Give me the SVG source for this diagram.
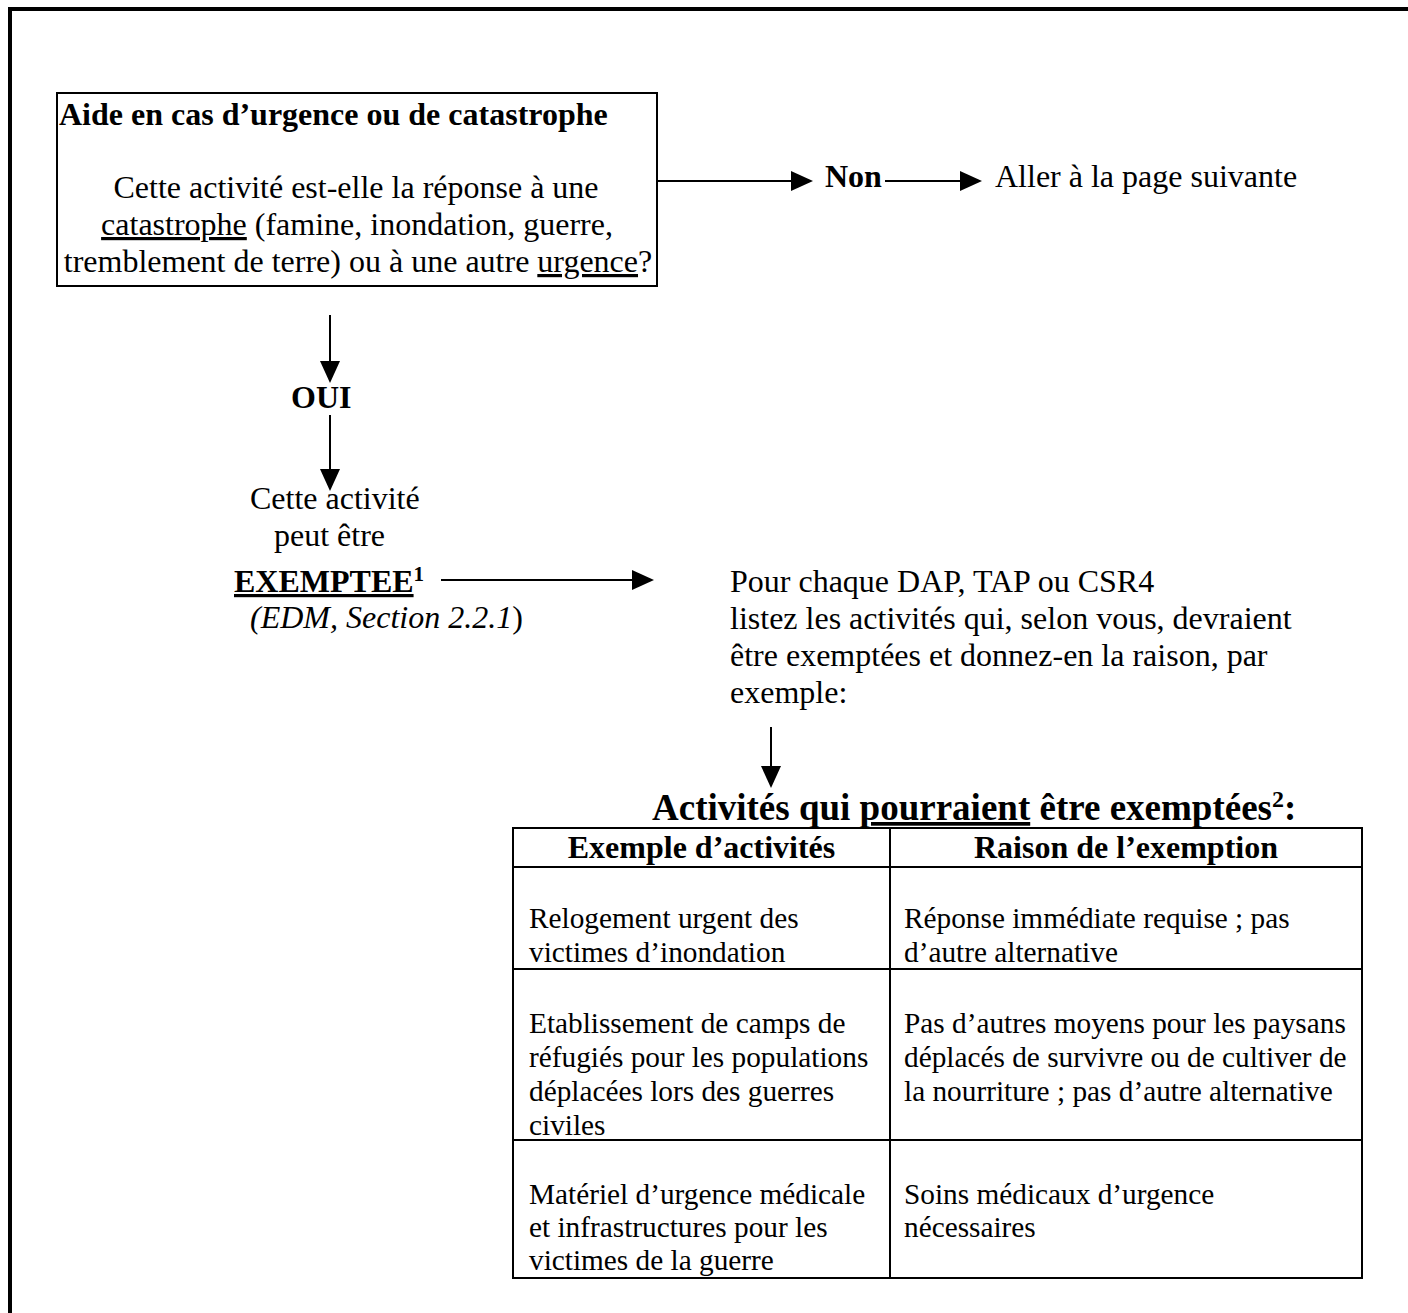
<svg xmlns="http://www.w3.org/2000/svg" width="1408" height="1313" viewBox="0 0 1408 1313">
<style>
text{font-family:"Liberation Serif","Times New Roman",serif;font-size:32px;fill:#000}
.b{font-weight:bold}
.i{font-style:italic}
.u{text-decoration:underline}
.c{text-anchor:middle}
.t{font-size:29.3px}
.h{font-size:37px}
.sup{font-size:21px}
.sup2{font-size:24px}
.ln{stroke:#000;stroke-width:2;fill:none}
.cell{stroke:#000;stroke-width:2;fill:none}
</style>
<defs>
<marker id="ah" markerUnits="userSpaceOnUse" markerWidth="22" markerHeight="20" viewBox="0 0 22 20" refX="0" refY="10" orient="auto">
<path d="M0,0 L22,10 L0,20 z" fill="#000"/>
</marker>
</defs>
<rect width="1408" height="1313" fill="#fff"/>
<path d="M10,1313 V9 H1408" stroke="#000" stroke-width="4" fill="none"/>

<g id="question">
<rect x="57" y="93" width="600" height="193" fill="#fff" stroke="#000" stroke-width="2"/>
<text class="b" x="59" y="125">Aide en cas d’urgence ou de catastrophe</text>
<text class="c" x="356" y="198">Cette activité est-elle la réponse à une</text>
<text class="c" x="357" y="235"><tspan class="u">catastrophe</tspan> (famine, inondation, guerre,</text>
<text class="c" x="358" y="272">tremblement de terre) ou à une autre <tspan class="u">urgence</tspan>?</text>
</g>

<g id="non">
<text class="b" x="825" y="187">Non</text>
</g>
<g id="next">
<text x="995" y="187">Aller à la page suivante</text>
</g>
<g id="oui">
<text class="b" x="291" y="408">OUI</text>
</g>
<g id="exempt">
<text x="250" y="509">Cette activité</text>
<text x="274" y="546">peut être</text>
<text class="b" x="234" y="592"><tspan class="u">EXEMPTEE</tspan><tspan class="sup" dy="-11">1</tspan></text>
<text x="250" y="628"><tspan class="i">(EDM, Section 2.2.1</tspan>)</text>
</g>
<g id="instructions">
<text x="730" y="592">Pour chaque DAP, TAP ou CSR4</text>
<text x="730" y="629">listez les activités qui, selon vous, devraient</text>
<text x="730" y="666">être exemptées et donnez-en la raison, par</text>
<text x="730" y="703">exemple:</text>
</g>

<g id="table">
<text class="b h" x="652" y="820">Activités qui <tspan class="u">pourraient</tspan> être exemptées<tspan class="sup2" dy="-13">2</tspan><tspan dy="13">:</tspan></text>
<rect class="cell" x="513" y="828" width="849" height="450"/>
<line class="cell" x1="890" y1="828" x2="890" y2="1278"/>
<line class="cell" x1="513" y1="867" x2="1362" y2="867"/>
<line class="cell" x1="513" y1="969" x2="1362" y2="969"/>
<line class="cell" x1="513" y1="1140" x2="1362" y2="1140"/>
<text class="b c" x="701.5" y="858">Exemple d’activités</text>
<text class="b c" x="1126" y="858">Raison de l’exemption</text>
<text class="t" x="529" y="928">Relogement urgent des</text>
<text class="t" x="529" y="962">victimes d’inondation</text>
<text class="t" x="904" y="928">Réponse immédiate requise ; pas</text>
<text class="t" x="904" y="962">d’autre alternative</text>
<text class="t" x="529" y="1033">Etablissement de camps de</text>
<text class="t" x="529" y="1067">réfugiés pour les populations</text>
<text class="t" x="529" y="1101">déplacées lors des guerres</text>
<text class="t" x="529" y="1135">civiles</text>
<text class="t" x="904" y="1033">Pas d’autres moyens pour les paysans</text>
<text class="t" x="904" y="1067">déplacés de survivre ou de cultiver de</text>
<text class="t" x="904" y="1101">la nourriture ; pas d’autre alternative</text>
<text class="t" x="529" y="1204">Matériel d’urgence médicale</text>
<text class="t" x="529" y="1237">et infrastructures pour les</text>
<text class="t" x="529" y="1270">victimes de la guerre</text>
<text class="t" x="904" y="1204">Soins médicaux d’urgence</text>
<text class="t" x="904" y="1237">nécessaires</text>
</g>

<g id="connectors">
<line class="ln" x1="657" y1="181" x2="791" y2="181" marker-end="url(#ah)"/>
<line class="ln" x1="885" y1="181" x2="960" y2="181" marker-end="url(#ah)"/>
<line class="ln" x1="330" y1="315" x2="330" y2="361" marker-end="url(#ah)"/>
<line class="ln" x1="330" y1="415" x2="330" y2="469" marker-end="url(#ah)"/>
<line class="ln" x1="441" y1="580" x2="632" y2="580" marker-end="url(#ah)"/>
<line class="ln" x1="771" y1="727" x2="771" y2="766" marker-end="url(#ah)"/>
</g>
</svg>
